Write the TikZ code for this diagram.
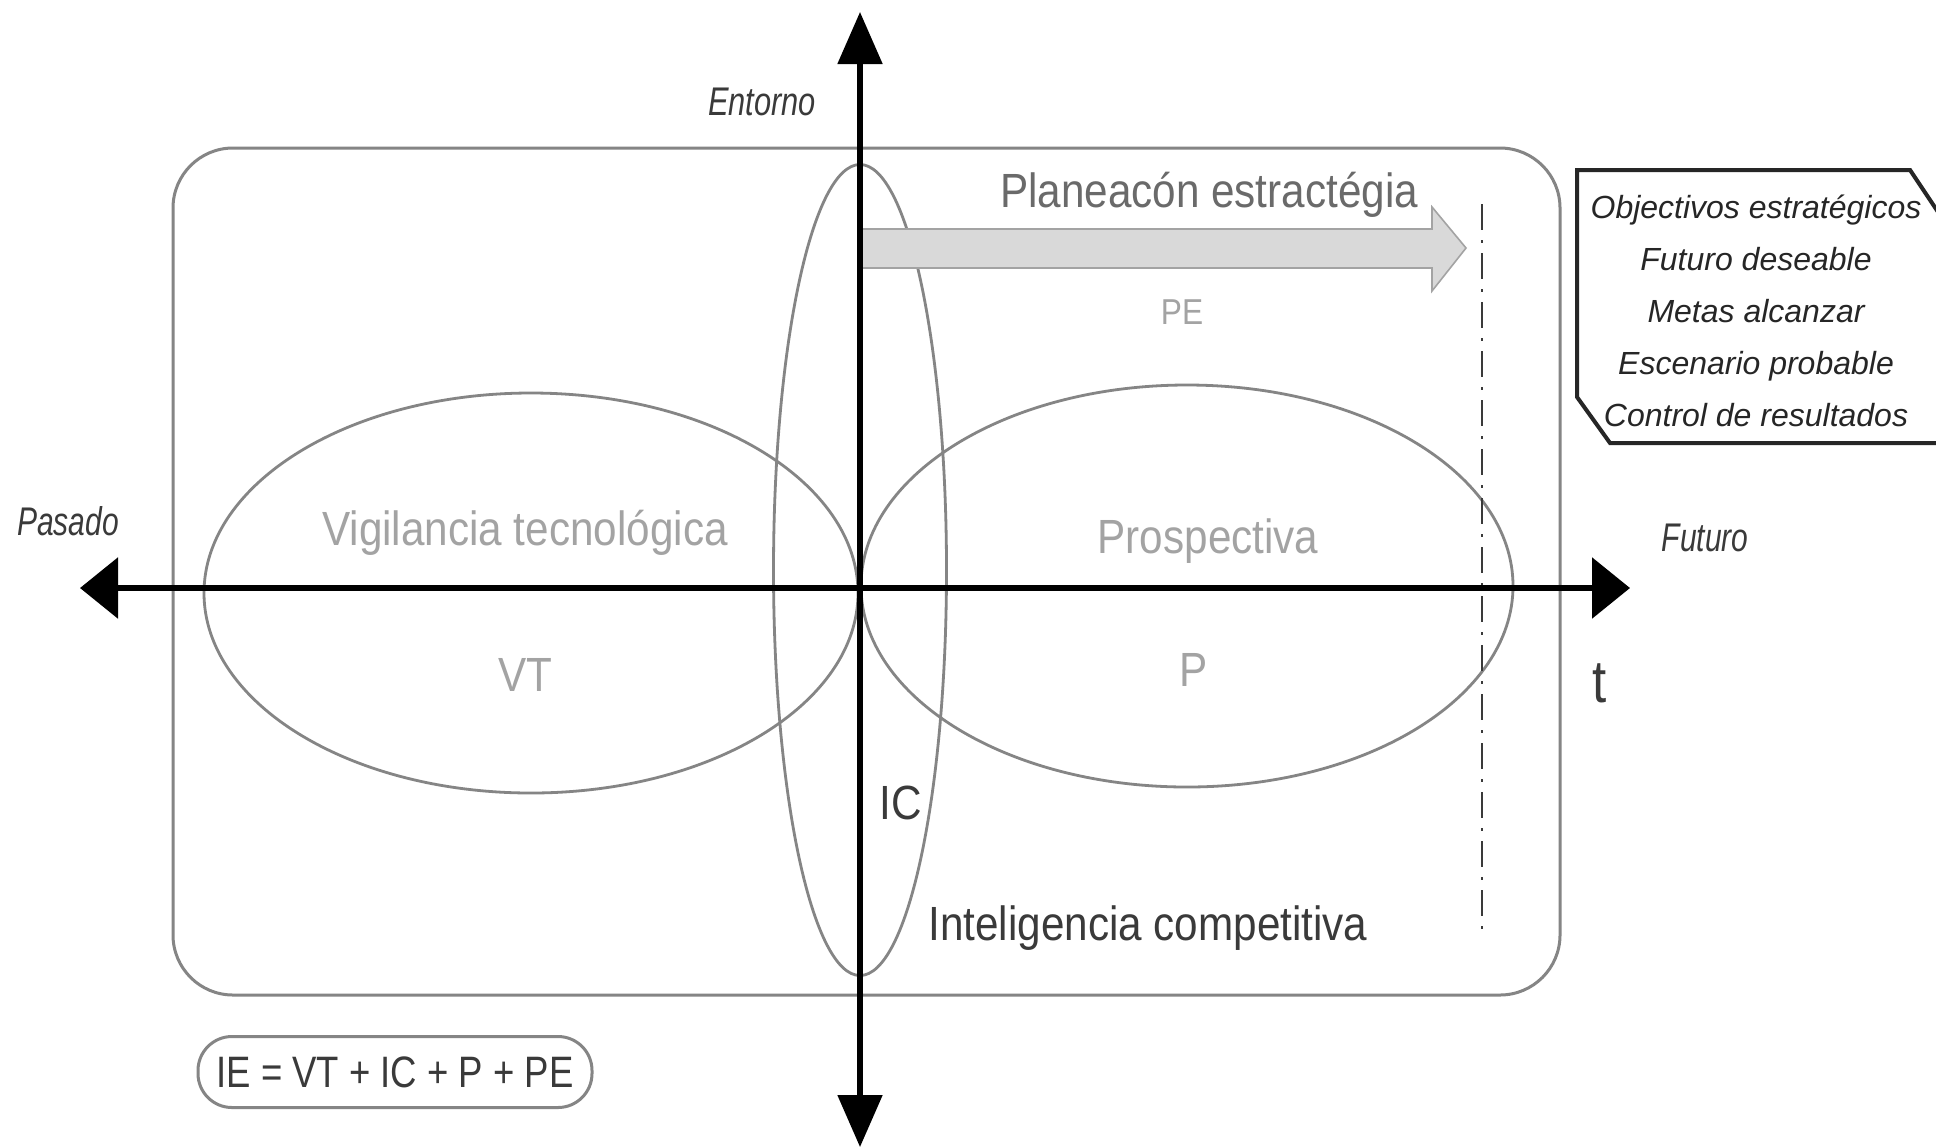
\documentclass[tikz,border=0pt]{standalone}
\usepackage{fontspec}
\setmainfont{Liberation Sans}
\usepackage{graphicx}
\usetikzlibrary{arrows.meta,shapes.geometric}
\newcommand{\cnd}[2]{\scalebox{#1}[1]{#2}}
\definecolor{lgray}{HTML}{A3A3A3}
\definecolor{mgray}{HTML}{6A6A6A}
\definecolor{dgray}{HTML}{3A3A3A}
\definecolor{linegray}{HTML}{858585}
\definecolor{arrowfill}{HTML}{D9D9D9}
\begin{document}
\begin{tikzpicture}[x=0.5pt,y=-0.5pt,
  frame/.style={draw=linegray, line width=1.5pt, inner sep=0pt},
  ell/.style={ellipse, draw=linegray, line width=1.4pt, inner sep=0pt},
  axis/.style={line width=3pt, draw=black},
  big/.style={inner sep=0pt, font=\fontsize{24}{28}\selectfont},
  axlbl/.style={inner sep=0pt, text=dgray, font=\fontsize{20}{24}\selectfont\itshape},
]
\useasboundingbox (0,0) rectangle (1936,1147);
\fill[white] (0,0) rectangle (1936,1147);

% frame
\node[frame, rounded corners=30pt, minimum width=693.5pt, minimum height=423.5pt] (frame) at (866.5,571.5) {};

% ellipses
\node[ell, minimum width=327pt, minimum height=200pt] (vt) at (531,593) {};
\node[ell, minimum width=326pt, minimum height=201pt] (pr) at (1187,586) {};
\node[ell, minimum width=86.5pt, minimum height=405.5pt] (ic) at (860,570) {};

% PE arrow
\draw[fill=arrowfill, draw=lgray, line width=0.8pt]
  (861,229) -- (1432,229) -- (1432,207) -- (1466,248) -- (1432,291) -- (1432,268) -- (861,268) -- cycle;

% dash-dot line
\coordinate (dt) at (1482,204);
\coordinate (db) at (1482,932);
\draw[draw=dgray, line width=1.3pt, dash pattern=on 13pt off 5pt on 1.5pt off 5pt] (dt) -- (db);

% axes
\coordinate (L) at (80,588);
\coordinate (R) at (1630,588);
\coordinate (T) at (860,12);
\coordinate (B) at (860,1147);
\draw[axis, {Triangle[length=19pt,width=30pt]}-{Triangle[length=19pt,width=30pt]}] (L) -- (R);
\draw[axis, line width=2.6pt, {Triangle[length=26pt,width=22pt]}-{Triangle[length=26pt,width=22pt]}] (B) -- (T);

% axis labels
\node[axlbl] (entorno) at (762,102) {\cnd{0.77}{Entorno}};
\node[axlbl] (pasado) at (68,521) {\cnd{0.75}{Pasado}};
\node[axlbl] (futuro) at (1705,538) {\cnd{0.75}{Futuro}};
\node[inner sep=0pt, text=dgray, font=\fontsize{30}{34}\selectfont] (t) at (1600,683) {\cnd{0.85}{t}};

% main labels
\node[big, text=mgray] (plan) at (1209,195) {\cnd{0.88}{Planeacón estractégia}};
\node[big, text=lgray, font=\fontsize{18}{22}\selectfont] (pe) at (1182,312) {\cnd{0.88}{PE}};
\node[big, text=lgray] (vig) at (525,533) {\cnd{0.88}{Vigilancia tecnológica}};
\node[big, text=lgray] (vtl) at (525,675) {\cnd{0.88}{VT}};
\node[big, text=lgray] (pros) at (1208,541) {\cnd{0.88}{Prospectiva}};
\node[big, text=lgray] (pl) at (1194,670) {\cnd{0.88}{P}};
\node[big, text=dgray] (icl) at (901,803) {\cnd{0.88}{IC}};
\node[big, text=dgray] (intel) at (1148,928) {\cnd{0.88}{Inteligencia competitiva}};

% formula box
\node[draw=linegray, line width=1.5pt, rounded corners=17pt, minimum width=197pt, minimum height=35.5pt, inner sep=0pt, text=dgray, font=\fontsize{22}{26}\selectfont] (ie) at (395,1072) {\cnd{0.83}{IE = VT + IC + P + PE}};

% objectives box
\draw[draw=black!85, line width=2pt] (1942,443) -- (1610,443) -- (1577,397) -- (1577,170) -- (1910,170) -- (1942,218);
\node[inner sep=0pt, align=center, text=black!85, font=\fontsize{16}{26}\selectfont\itshape] (obj) at (1756,311)
  {Objectivos estratégicos\\Futuro deseable\\Metas alcanzar\\Escenario probable\\Control de resultados};
\end{tikzpicture}
\end{document}
